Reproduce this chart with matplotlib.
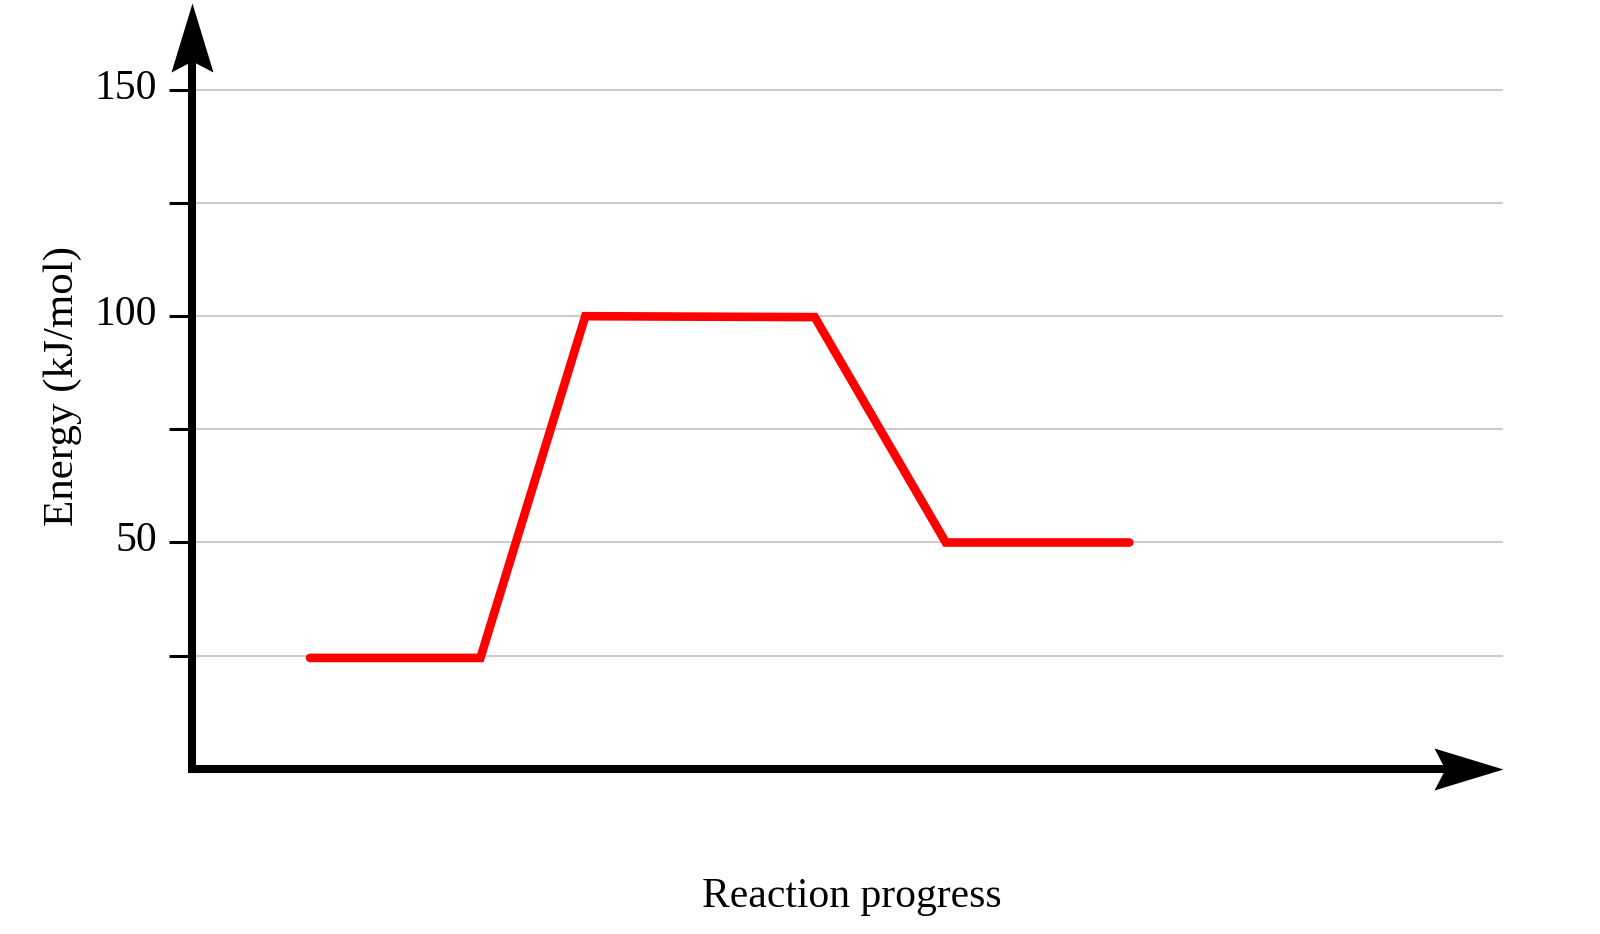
import numpy as np
import matplotlib
matplotlib.use("Agg")
import matplotlib.pyplot as plt
from matplotlib.path import Path
from matplotlib.transforms import ScaledTranslation

plt.rcParams['font.family'] = ['Liberation Serif', 'DejaVu Serif']

# Energy profile (reaction coordinate is arbitrary units 0..10)
progress = [0.9, 2.2, 3.0, 4.75, 5.75, 7.15]
energy = [24.5, 24.5, 100, 99.8, 50, 50]

y_ticks = [25, 50, 75, 100, 125, 150]
y_tick_labels = ['', '50', '', '100', '', '150']

x_max = 10
y_max = 169.2

fig = plt.figure(figsize=(16, 9.34), dpi=100)
ax = fig.add_axes([192 / 1600, 1 - 768.8 / 934, 1311 / 1600, 765.8 / 934])

ax.plot(progress, energy, color='#ff0000', linewidth=6.2,
        solid_capstyle='round', solid_joinstyle='miter', zorder=3)

ax.set_xlim(0, x_max)
ax.set_ylim(0, y_max)
ax.set_xticks([])
ax.set_yticks(y_ticks)
ax.set_yticklabels(y_tick_labels)
ax.tick_params(axis='y', length=16.5, width=2.2, pad=8.6, labelsize=30,
               direction='out', color='black')
# labels sit a little above their ticks
for lbl in ax.get_yticklabels():
    lbl.set_transform(lbl.get_transform() + ScaledTranslation(0, 0.06, fig.dpi_scale_trans))
ax.grid(axis='y', color='#cccccc', linewidth=1.5)
ax.set_axisbelow(True)

# axis lines with arrowheads
for side in ['top', 'right']:
    ax.spines[side].set_visible(False)
for side in ['left', 'bottom']:
    ax.spines[side].set_linewidth(5.8)
    ax.spines[side].set_capstyle('projecting')
ax.spines['left'].set_bounds(0, y_max - 9)
ax.spines['bottom'].set_bounds(0, x_max - 0.3)

head_right = Path([(0, 0), (-69, 21), (-58, 0), (-69, -21), (0, 0)],
                  [Path.MOVETO, Path.LINETO, Path.LINETO, Path.LINETO, Path.CLOSEPOLY])
head_up = Path([(0, 0), (-21, -69), (0, -58), (21, -69), (0, 0)],
               [Path.MOVETO, Path.LINETO, Path.LINETO, Path.LINETO, Path.CLOSEPOLY])
ax.plot([x_max], [0], marker=head_right, markersize=99.4, color='black',
        markeredgewidth=0, clip_on=False, zorder=5)
ax.plot([0], [y_max], marker=head_up, markersize=99.4, color='black',
        markeredgewidth=0, clip_on=False, zorder=5)

ax.set_xlabel('Reaction progress', fontsize=30)
ax.xaxis.set_label_coords(0.5034, -0.142)
ax.set_ylabel('Energy (kJ/mol)', fontsize=31)
ax.yaxis.set_label_coords(-0.084, 0.5)

plt.savefig('out.png', dpi=100)
